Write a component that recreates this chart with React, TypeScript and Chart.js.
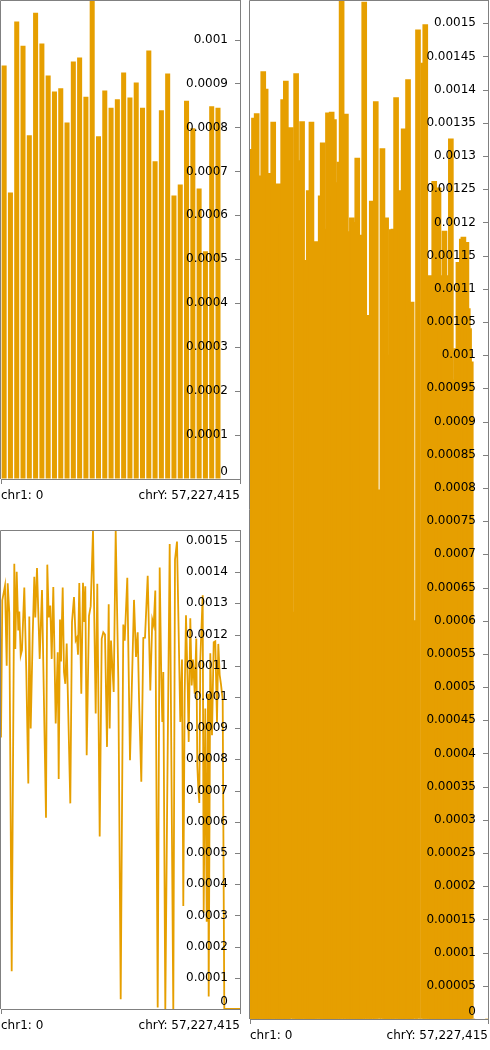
import React, { useEffect, useRef } from "react";
import { Chart, registerables } from "chart.js";

Chart.register(...registerables);

const ORANGE = "#E69F00";
const FRAME = "#808080";
const TEXT = "#000000";
const FONT_FAMILY = "'DejaVu Sans', sans-serif";

// x-axis end labels (genome start / end)
const axisEndLabels = ["chr1: 0", "chrY: 57,227,415"];

// Panel A: coarse genome bins
const coarseBinValues = [
  0.000941, 0.000652, 0.001041, 0.000986, 0.000782, 0.001061, 0.000991, 0.000918,
  0.000882, 0.000889, 0.000811, 0.00095, 0.000959, 0.00087, 0.00109, 0.00078,
  0.000884, 0.000845, 0.000864, 0.000925, 0.000868, 0.000902, 0.000845, 0.000975,
  0.000723, 0.000839, 0.000923, 0.000645, 0.00067, 0.000861, 0.000798, 0.000661,
  0.000518, 0.000848, 0.000845, 0, 0, 0,
];
const coarseYMax = 0.00109;
const coarseStep = 0.0001;

// Panels B and C: fine genome bins (position along the genome, 0..239 bins)
const fineBinCount = 239;
const fineBinPositions = [
  0, 1.3, 4, 5.7, 6.7, 8.3, 10.7, 13.3, 14.3, 15.7, 17.3, 18.3, 19.7, 21, 23.3, 25.3,
  27.3, 28.3, 29.7, 31.7, 33.3, 34.3, 36, 37.3, 38.7, 41, 45, 46.3, 47.7, 49.3, 50.7, 52.3,
  54.7, 56.7, 57.7, 59, 60, 61.7, 63, 64.3, 65.7, 69.3, 71, 73, 74.7, 76, 77, 78.3,
  80.3, 82, 83.3, 84.3, 85.7, 88, 89.7, 92, 94.7, 96.3, 98.7, 100.7, 102.3, 104, 106, 107.7,
  108.7, 110, 111.3, 112.7, 114.7, 117.3, 119.7, 122.3, 123.7, 126.3, 129, 133, 135, 136.7, 138, 140.3, 142.3,
  144, 146.7, 149.3, 151.3, 152.7, 154.3, 156.7, 158.7, 160.3, 161.3, 162.3, 164.3, 166, 168.7, 172.3, 174, 176,
  179.3, 181, 182.3, 183.7, 185, 186.7, 187.7, 189.3, 190.7, 192, 193.7, 195.3, 196.3, 197.3, 198.3, 199.3,
  201.7, 202.7, 204.3, 205.7, 207, 207.7, 209.3, 211, 212.7, 214.3, 216, 217.3, 218.7, 220, 221.7, 223.3,
  239,
];
const fineBinValues = [
  0.00087, 0.00131, 0.001357, 0.0011, 0.001364, 0.00127, 0.000121, 0.001427, 0.001154, 0.001401, 0.001213, 0.001274, 0.001133, 0.00115, 0.001351, 0.00108,
  0.000723, 0.001258, 0.000899, 0.001197, 0.001385, 0.001255, 0.001413, 0.001271, 0.001122, 0.001343, 0.000613, 0.001424, 0.001255, 0.001293, 0.001122, 0.001352,
  0.000915, 0.001143, 0.000737, 0.001248, 0.001114, 0.001351, 0.00108, 0.001042, 0.001171, 0.000659, 0.00124, 0.00132, 0.001181, 0.00119, 0.001135, 0.001365,
  0.00101, 0.001366, 0.00124, 0.001355, 0.000813, 0.00126, 0.001291, 0.001535, 0.000947, 0.001363, 0.000553, 0.001186, 0.001207, 0.0012, 0.00084, 0.001297,
  0.000899, 0.001181, 0.001101, 0.001016, 0.001532, 0.00106, 0.000031, 0.001232, 0.00118, 0.001382, 0.000797, 0.001311, 0.001128, 0.001207, 0.001, 0.000728, 0.001189,
  0.00119, 0.001388, 0.001021, 0.001248, 0.00123, 0.001341, 0.000005, 0.001415, 0.001058, 0.00092, 0.00108, 0, 0.0006, 0.00149, 0, 0.00144, 0.001498,
  0.00092, 0.00112, 0.00033, 0.00101, 0.001262, 0.001037, 0.000856, 0.001252, 0.001037, 0.00112, 0.00101, 0.001187, 0.00078, 0.000707, 0.00066, 0.00112,
  0.001326, 0.000308, 0.000963, 0.00028, 0.00101, 0.00004, 0.00114, 0.000877, 0.001175, 0.001178, 0.00092, 0.00117, 0.00107, 0.00104, 0.00099, 0,
  0,
];
const fineYMax = 0.001535;
const fineBarStep = 0.00005;
const fineLineStep = 0.0001;

function fmt(v: number | string): string | string[] {
  const s = parseFloat(Number(v).toFixed(8)).toString();
  // the baseline label sits just above the axis
  return s === "0" ? ["0", ""] : s;
}

const framePlugin = {
  id: "frame",
  afterDatasetsDraw(chart: any) {
    const { ctx, chartArea } = chart;
    const { left, top, right, bottom } = chartArea;
    const yScale = chart.scales.y;
    ctx.save();
    ctx.strokeStyle = FRAME;
    ctx.lineWidth = 1;
    ctx.beginPath();
    const lx = Math.round(left) - 0.5;
    const ty = Math.round(top) + 0.5;
    ctx.moveTo(lx, bottom);
    ctx.lineTo(lx, ty);
    ctx.lineTo(right, ty);
    for (const t of yScale.ticks) {
      const py = Math.round(yScale.getPixelForValue(t.value)) + 0.5;
      ctx.moveTo(right - 5, py);
      ctx.lineTo(right, py);
    }
    ctx.stroke();
    ctx.restore();
  },
};

function labelAxis() {
  return {
    type: "linear",
    axis: "x",
    position: "bottom",
    min: 0,
    max: 1,
    offset: false,
    afterBuildTicks: (scale: any) => {
      scale.ticks = [{ value: 0 }, { value: 1 }];
    },
    ticks: {
      z: 1,
      autoSkip: false,
      maxRotation: 0,
      align: "inner",
      padding: 0,
      color: TEXT,
      font: { family: FONT_FAMILY, size: 12, lineHeight: 2 },
      callback: (_v: any, i: number) => axisEndLabels[i],
    },
    grid: {
      display: true,
      offset: false,
      drawOnChartArea: false,
      drawTicks: true,
      tickLength: 5,
      color: FRAME,
      lineWidth: 1,
      z: 1,
    },
    border: { display: true, color: FRAME, width: 1, z: 1 },
  };
}

function valueAxis(yMax: number, step: number) {
  return {
    type: "linear",
    position: "right",
    min: 0,
    max: yMax,
    ticks: {
      z: 1,
      stepSize: step,
      includeBounds: false,
      autoSkip: false,
      mirror: true,
      padding: -12,
      color: TEXT,
      font: { family: FONT_FAMILY, size: 12 },
      callback: (v: any) => fmt(v),
    },
    grid: {
      display: true,
      drawOnChartArea: false,
      drawTicks: true,
      tickLength: 12,
      tickColor: "rgba(0,0,0,0)",
    },
    border: { display: true, color: FRAME, width: 1, z: 1 },
  };
}

const commonOptions = {
  responsive: false,
  animation: false as const,
  events: [] as any[],
  plugins: { legend: { display: false }, tooltip: { enabled: false } },
};

function fineXAxis() {
  return {
    type: "linear",
    display: false,
    min: 0,
    max: fineBinCount,
    offset: false,
    grid: { offset: false },
  };
}

function fineData() {
  return fineBinPositions.map((p, i) => ({ x: p, y: fineBinValues[i] }));
}

function configA(): any {
  return {
    type: "bar",
    data: {
      labels: coarseBinValues.map((_, i) => String(i + 1)),
      datasets: [
        {
          data: coarseBinValues,
          backgroundColor: ORANGE,
          borderWidth: 0,
          barPercentage: 0.8,
          categoryPercentage: 1,
        },
      ],
    },
    options: {
      ...commonOptions,
      layout: { padding: { left: 1, right: 5, top: 0, bottom: 2 } },
      scales: {
        x: { type: "category", display: false, offset: true },
        xl: labelAxis(),
        y: valueAxis(coarseYMax, coarseStep),
      },
    },
    plugins: [framePlugin],
  };
}

function configB(): any {
  return {
    type: "bar",
    data: {
      datasets: [
        {
          data: fineData(),
          backgroundColor: ORANGE,
          borderWidth: 0,
          barThickness: 5,
        },
      ],
    },
    options: {
      ...commonOptions,
      layout: { padding: { left: 5, right: 2, top: 0, bottom: 2 } },
      scales: {
        x: fineXAxis(),
        xl: labelAxis(),
        y: valueAxis(fineYMax, fineBarStep),
      },
    },
    plugins: [framePlugin],
  };
}

function configC(): any {
  return {
    type: "line",
    data: {
      datasets: [
        {
          data: fineData(),
          borderColor: ORANGE,
          borderWidth: 1.8,
          pointRadius: 0,
          tension: 0,
          fill: false,
        },
      ],
    },
    options: {
      ...commonOptions,
      layout: { padding: { left: 1, right: 5, top: 10, bottom: 2 } },
      scales: {
        x: fineXAxis(),
        xl: labelAxis(),
        y: valueAxis(fineYMax, fineLineStep),
      },
    },
    plugins: [framePlugin],
  };
}

function ChartCanvas(props: { make: () => any; left: number; top: number; width: number; height: number }) {
  const ref = useRef<HTMLCanvasElement | null>(null);
  useEffect(() => {
    if (!ref.current) return;
    const chart = new Chart(ref.current, props.make());
    return () => chart.destroy();
  }, []);
  return (
    <canvas
      ref={ref}
      width={props.width}
      height={props.height}
      style={{
        position: "absolute",
        left: props.left,
        top: props.top,
        width: props.width,
        height: props.height,
      }}
    />
  );
}

export default function App() {
  return (
    <div style={{ position: "absolute", left: 0, top: 0, width: 490, height: 1050, background: "#fff" }}>
      <ChartCanvas make={configA} left={0} top={0} width={245} height={510} />
      <ChartCanvas make={configB} left={245} top={0} width={245} height={1050} />
      <ChartCanvas make={configC} left={0} top={520} width={245} height={520} />
    </div>
  );
}
